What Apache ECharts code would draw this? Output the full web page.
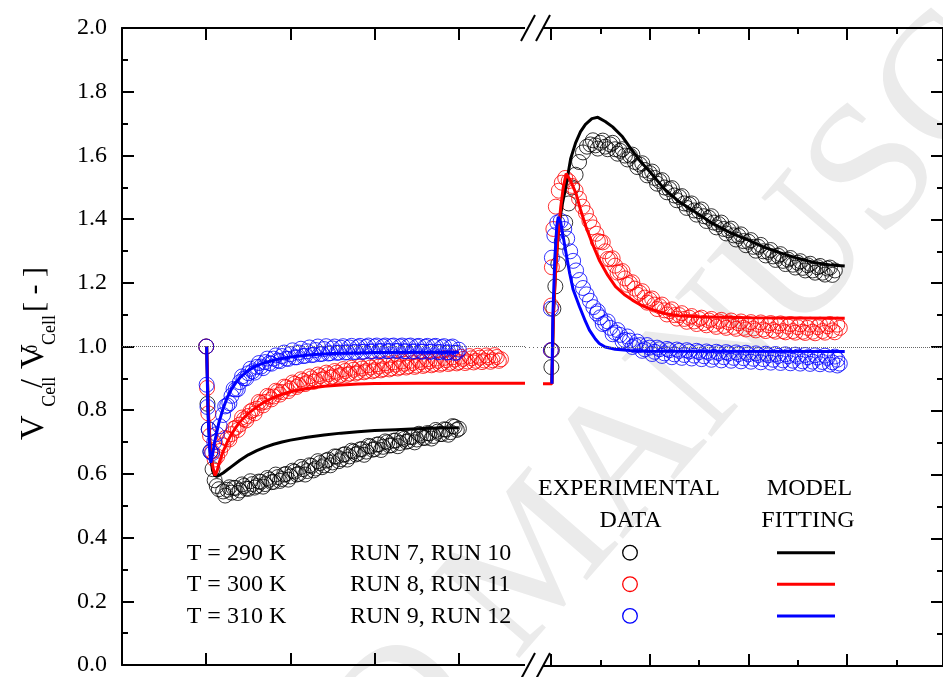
<!DOCTYPE html>
<html><head><meta charset="utf-8">
<script src="https://cdn.jsdelivr.net/npm/echarts@6/dist/echarts.min.js"></script>
<style>html,body{margin:0;padding:0;background:#fff}#c{width:943px;height:677px}</style>
</head><body><div id="c"></div>
<script>
// ---- tick positions (no labels on x) ----
const leftTicks = [0, 20, 40, 60];
const rightMajorTicks = [0, 20, 40, 60];
const rightMinorTicks = [10, 30, 50, 70];
const yTickLabelDigits = 1;

// ---- legend texts ----
const temps = ['T = 290 K', 'T = 300 K', 'T = 310 K'];
const runs = ['RUN 7, RUN 10', 'RUN 8, RUN 11', 'RUN 9, RUN 12'];
const colors = ['#000000', '#ff0000', '#0000ff'];

// ---- left panel: experimental data [t, V/V0] ----
const expL290 = [[0,1.0],[0.3,0.82],[0.6,0.74],[1,0.67],[1.5,0.615],[2,0.58],[2.5,0.562],[3,0.552],[4,0.545],[5,0.55],[6,0.541],[7,0.556],[8,0.548],[9,0.562],[10,0.553],[11,0.568],[12,0.562],[13,0.575],[14,0.568],[15,0.582],[16,0.575],[17,0.59],[18,0.584],[19,0.6],[20,0.592],[21,0.607],[22,0.6],[23,0.615],[24,0.609],[25,0.625],[26,0.617],[27,0.634],[28,0.627],[29,0.645],[30,0.636],[31,0.654],[32,0.646],[33,0.662],[34,0.655],[35,0.67],[36,0.664],[37,0.678],[38,0.67],[39,0.686],[40,0.678],[41,0.693],[42,0.685],[43,0.699],[44,0.69],[45,0.705],[46,0.697],[47,0.71],[48,0.703],[49,0.716],[50,0.708],[51,0.721],[52,0.713],[53,0.727],[54,0.719],[55,0.733],[56,0.725],[57,0.739],[58,0.731],[59,0.748],[60,0.742]];
const expL290b = [[4.5,0.532],[5.5,0.558],[6.5,0.556],[7.5,0.54],[8.5,0.567],[9.5,0.554],[10.5,0.577],[11.5,0.557],[12.5,0.576],[13.5,0.56],[14.5,0.587],[15.5,0.574],[16.5,0.598],[17.5,0.578],[18.5,0.598],[19.5,0.582],[20.5,0.61],[21.5,0.598],[22.5,0.622],[23.5,0.598],[24.5,0.627],[25.5,0.611],[26.5,0.64],[27.5,0.621],[28.5,0.642],[29.5,0.627],[30.5,0.655],[31.5,0.64],[32.5,0.66],[33.5,0.645],[34.5,0.673],[35.5,0.661],[36.5,0.677],[37.5,0.66],[38.5,0.688],[39.5,0.676],[40.5,0.692],[41.5,0.675],[42.5,0.702],[43.5,0.689],[44.5,0.704],[45.5,0.687],[46.5,0.714],[47.5,0.701],[48.5,0.716],[49.5,0.699],[50.5,0.726],[51.5,0.713],[52.5,0.728],[53.5,0.711],[54.5,0.738],[55.5,0.725],[56.5,0.74],[57.5,0.723],[58.5,0.75],[59.5,0.738]];
const expL300 = [[0,1.0],[0.2,0.87],[0.5,0.79],[0.9,0.72],[1.4,0.67],[2,0.645],[2.6,0.655],[3.3,0.672],[4,0.69],[5,0.71],[6,0.725],[7,0.745],[8,0.755],[9,0.772],[10,0.782],[11,0.8],[12,0.805],[13,0.823],[14,0.826],[15,0.842],[16,0.843],[17,0.858],[18,0.857],[19,0.872],[20,0.868],[21,0.883],[22,0.879],[23,0.892],[24,0.887],[25,0.9],[26,0.894],[27,0.907],[28,0.9],[29,0.913],[30,0.906],[31,0.918],[32,0.911],[33,0.923],[34,0.915],[35,0.927],[36,0.919],[37,0.931],[38,0.923],[39,0.934],[40,0.926],[41,0.937],[42,0.929],[43,0.94],[44,0.932],[45,0.943],[46,0.935],[47,0.946],[48,0.938],[49,0.948],[50,0.94],[51,0.951],[52,0.943],[53,0.953],[54,0.945],[55,0.955],[56,0.947],[57,0.957],[58,0.949],[59,0.959],[60,0.951],[61,0.961],[62,0.953],[63,0.963],[64,0.955],[65,0.965],[66,0.956],[67,0.966],[68,0.957],[69,0.967],[70,0.96]];
const expL300b = [[4.5,0.713],[5.5,0.708],[6.5,0.742],[7.5,0.738],[8.5,0.777],[9.5,0.768],[10.5,0.796],[11.5,0.79],[12.5,0.826],[13.5,0.815],[14.5,0.845],[15.5,0.834],[16.5,0.861],[17.5,0.849],[18.5,0.874],[19.5,0.86],[20.5,0.887],[21.5,0.873],[22.5,0.897],[23.5,0.882],[24.5,0.906],[25.5,0.889],[26.5,0.912],[27.5,0.896],[28.5,0.918],[29.5,0.902],[30.5,0.923],[31.5,0.907],[32.5,0.929],[33.5,0.911],[34.5,0.933],[35.5,0.915],[36.5,0.937],[37.5,0.919],[38.5,0.941],[39.5,0.922],[40.5,0.944],[41.5,0.925],[42.5,0.947],[43.5,0.928],[44.5,0.95],[45.5,0.931],[46.5,0.953],[47.5,0.934],[48.5,0.955],[49.5,0.936],[50.5,0.958],[51.5,0.939],[52.5,0.96],[53.5,0.941],[54.5,0.962],[55.5,0.943],[56.5,0.964],[57.5,0.945],[58.5,0.966],[59.5,0.947],[60.5,0.968],[61.5,0.948],[62.5,0.97],[63.5,0.95],[64.5,0.971],[65.5,0.951],[66.5,0.972],[67.5,0.952],[68.5,0.973],[69.5,0.955]];
const expL310 = [[0,1.0],[0.1,0.88],[0.3,0.81],[0.6,0.74],[1,0.67],[1.4,0.665],[1.9,0.7],[2.5,0.725],[3.2,0.75],[4,0.785],[5,0.815],[6,0.845],[7,0.865],[8,0.888],[9,0.9],[10,0.916],[11,0.922],[12,0.936],[13,0.937],[14,0.951],[15,0.948],[16,0.962],[17,0.956],[18,0.97],[19,0.962],[20,0.976],[21,0.966],[22,0.981],[23,0.97],[24,0.985],[25,0.973],[26,0.989],[27,0.976],[28,0.992],[29,0.978],[30,0.994],[31,0.98],[32,0.996],[33,0.981],[34,0.997],[35,0.982],[36,0.998],[37,0.983],[38,0.999],[39,0.984],[40,1.0],[41,0.985],[42,1.0],[43,0.985],[44,1.001],[45,0.986],[46,1.0],[47,0.985],[48,1.001],[49,0.984],[50,1.0],[51,0.984],[52,0.999],[53,0.983],[54,1.0],[55,0.982],[56,0.998],[57,0.981],[58,0.997],[59,0.98],[60,0.99]];
const expL310b = [[4.5,0.812],[5.5,0.822],[6.5,0.867],[7.5,0.866],[8.5,0.906],[9.5,0.9],[10.5,0.93],[11.5,0.918],[12.5,0.948],[13.5,0.932],[14.5,0.962],[15.5,0.946],[16.5,0.972],[17.5,0.954],[18.5,0.981],[19.5,0.961],[20.5,0.988],[21.5,0.966],[22.5,0.993],[23.5,0.971],[24.5,0.997],[25.5,0.974],[26.5,1.0],[27.5,0.977],[28.5,1.001],[29.5,0.979],[30.5,1.0],[31.5,0.981],[32.5,1.001],[33.5,0.982],[34.5,1.002],[35.5,0.983],[36.5,1.002],[37.5,0.984],[38.5,1.003],[39.5,0.985],[40.5,1.003],[41.5,0.986],[42.5,1.003],[43.5,0.986],[44.5,1.003],[45.5,0.986],[46.5,1.003],[47.5,0.985],[48.5,1.003],[49.5,0.985],[50.5,1.002],[51.5,0.984],[52.5,1.002],[53.5,0.984],[54.5,1.002],[55.5,0.983],[56.5,1.001],[57.5,0.982],[58.5,1.0],[59.5,0.981]];

// ---- left panel: model fitting ----
const fitL290 = [[0.1,1.0],[0.5,0.78],[1,0.66],[1.5,0.61],[2,0.595],[2.5,0.592],[3,0.595],[4,0.603],[5,0.613],[6,0.623],[8,0.643],[10,0.66],[12,0.673],[14,0.684],[16,0.693],[18,0.7],[20,0.706],[24,0.715],[28,0.722],[32,0.728],[36,0.732],[40,0.736],[45,0.739],[50,0.742],[55,0.744],[60,0.745]];
const fitL300 = [[0.1,1.0],[0.5,0.8],[1,0.68],[1.6,0.62],[2.1,0.595],[2.6,0.61],[3.2,0.64],[4,0.67],[5,0.7],[6,0.725],[7,0.745],[8,0.763],[10,0.79],[12,0.81],[14,0.827],[16,0.84],[18,0.85],[20,0.858],[24,0.868],[28,0.875],[32,0.879],[36,0.882],[40,0.884],[50,0.885],[60,0.885],[75.7,0.885]];
const fitL310 = [[0.1,1.0],[0.4,0.8],[0.8,0.68],[1.1,0.635],[1.5,0.66],[2,0.7],[3,0.76],[4,0.805],[5,0.84],[6,0.866],[7,0.886],[8,0.902],[10,0.925],[12,0.94],[14,0.95],[17,0.96],[20,0.967],[25,0.974],[30,0.978],[40,0.981],[50,0.982],[60,0.982]];

// ---- right panel: experimental data ----
const expR290 = [[0.1,0.937],[0.2,0.99],[0.5,1.12],[0.9,1.19],[1.5,1.26],[2.2,1.33],[2.9,1.39],[3.6,1.45],[4.3,1.5],[5,1.54],[5.7,1.58],[6.5,1.61],[7.3,1.628],[8,1.635],[9,1.632],[10,1.64],[11,1.628],[12,1.635],[13,1.62],[14,1.615],[15,1.6],[16,1.6],[17,1.58],[18,1.572],[19,1.555],[20,1.545],[21,1.53],[22,1.52],[23,1.5],[24,1.495],[25,1.475],[26,1.47],[27,1.45],[28,1.447],[29,1.428],[30,1.426],[31,1.41],[32,1.405],[33,1.39],[34,1.385],[35,1.37],[36,1.366],[37,1.35],[38,1.348],[39,1.332],[40,1.33],[41,1.314],[42,1.314],[43,1.3],[44,1.298],[45,1.284],[46,1.286],[47,1.27],[48,1.274],[49,1.258],[50,1.264],[51,1.248],[52,1.256],[53,1.24],[54,1.25],[55,1.233],[56,1.246],[57,1.226],[57.5,1.24]];
const expR290b = [[8.5,1.648],[9.5,1.622],[10.5,1.647],[11.5,1.62],[12.5,1.64],[13.5,1.606],[14.5,1.62],[15.5,1.588],[16.5,1.603],[17.5,1.564],[18.5,1.576],[19.5,1.538],[20.5,1.55],[21.5,1.512],[22.5,1.523],[23.5,1.485],[24.5,1.498],[25.5,1.46],[26.5,1.473],[27.5,1.436],[28.5,1.45],[29.5,1.415],[30.5,1.431],[31.5,1.395],[32.5,1.41],[33.5,1.375],[34.5,1.39],[35.5,1.356],[36.5,1.371],[37.5,1.337],[38.5,1.353],[39.5,1.319],[40.5,1.335],[41.5,1.302],[42.5,1.32],[43.5,1.287],[44.5,1.304],[45.5,1.273],[46.5,1.291],[47.5,1.26],[48.5,1.279],[49.5,1.249],[50.5,1.269],[51.5,1.24],[52.5,1.261],[53.5,1.233],[54.5,1.254],[55.5,1.227],[56.5,1.249]];
const expR300 = [[0,0.99],[0.1,1.13],[0.2,1.25],[0.5,1.37],[1,1.44],[1.6,1.49],[2.2,1.515],[2.9,1.53],[3.6,1.52],[4.3,1.505],[5,1.49],[5.7,1.465],[6.4,1.44],[7.1,1.42],[7.8,1.395],[8.5,1.375],[9.2,1.355],[10,1.33],[11,1.3],[12,1.275],[13,1.255],[14,1.235],[15,1.215],[16,1.2],[17,1.183],[18,1.17],[19,1.155],[20,1.148],[21,1.133],[22,1.128],[23,1.115],[24,1.112],[25,1.1],[26,1.1],[27,1.088],[28,1.092],[29,1.08],[30,1.088],[31,1.075],[32,1.083],[33,1.07],[34,1.08],[35,1.066],[36,1.077],[37,1.063],[38,1.074],[39,1.06],[40,1.072],[41,1.058],[42,1.07],[43,1.055],[44,1.068],[45,1.053],[46,1.066],[47,1.05],[48,1.064],[49,1.05],[50,1.062],[51,1.048],[52,1.06],[53,1.048],[54,1.062],[55,1.05],[56,1.065],[57,1.052],[58,1.07]];
const expR300b = [[9.5,1.332],[10.5,1.328],[11.5,1.276],[12.5,1.278],[13.5,1.233],[14.5,1.238],[15.5,1.195],[16.5,1.203],[17.5,1.164],[18.5,1.175],[19.5,1.139],[20.5,1.152],[21.5,1.119],[22.5,1.133],[23.5,1.102],[24.5,1.118],[25.5,1.089],[26.5,1.106],[27.5,1.079],[28.5,1.097],[29.5,1.072],[30.5,1.092],[31.5,1.068],[32.5,1.088],[33.5,1.063],[34.5,1.085],[35.5,1.06],[36.5,1.083],[37.5,1.057],[38.5,1.08],[39.5,1.055],[40.5,1.078],[41.5,1.052],[42.5,1.077],[43.5,1.05],[44.5,1.075],[45.5,1.048],[46.5,1.074],[47.5,1.046],[48.5,1.072],[49.5,1.045],[50.5,1.071],[51.5,1.044],[52.5,1.07],[53.5,1.043],[54.5,1.07],[55.5,1.045],[56.5,1.072],[57.5,1.046],[58.5,1.06]];
const expR310 = [[0,0.99],[0,1.12],[0.2,1.28],[0.7,1.35],[1.3,1.39],[2,1.395],[2.7,1.37],[3.3,1.34],[3.9,1.3],[4.5,1.27],[5.1,1.24],[5.8,1.21],[6.5,1.185],[7.2,1.165],[7.9,1.145],[8.6,1.125],[9.3,1.105],[10,1.093],[11,1.075],[12,1.06],[13,1.045],[14,1.038],[15,1.022],[16,1.02],[17,1.005],[18,1.006],[19,0.993],[20,0.998],[21,0.985],[22,0.993],[23,0.98],[24,0.99],[25,0.977],[26,0.988],[27,0.975],[28,0.986],[29,0.973],[30,0.984],[31,0.971],[32,0.982],[33,0.969],[34,0.981],[35,0.968],[36,0.98],[37,0.966],[38,0.978],[39,0.965],[40,0.977],[41,0.963],[42,0.975],[43,0.962],[44,0.974],[45,0.96],[46,0.972],[47,0.958],[48,0.971],[49,0.957],[50,0.97],[51,0.955],[52,0.968],[53,0.954],[54,0.967],[55,0.953],[56,0.966],[57,0.952],[58,0.96],[58.5,0.948]];
const expR310b = [[9.5,1.112],[10.5,1.072],[11.5,1.08],[12.5,1.04],[13.5,1.053],[14.5,1.018],[15.5,1.033],[16.5,1.0],[17.5,1.017],[18.5,0.988],[19.5,1.006],[20.5,0.978],[21.5,0.998],[22.5,0.972],[23.5,0.994],[24.5,0.968],[25.5,0.992],[26.5,0.966],[27.5,0.99],[28.5,0.964],[29.5,0.988],[30.5,0.962],[31.5,0.986],[32.5,0.96],[33.5,0.985],[34.5,0.958],[35.5,0.984],[36.5,0.957],[37.5,0.983],[38.5,0.955],[39.5,0.982],[40.5,0.954],[41.5,0.98],[42.5,0.952],[43.5,0.979],[44.5,0.951],[45.5,0.978],[46.5,0.95],[47.5,0.977],[48.5,0.949],[49.5,0.976],[50.5,0.948],[51.5,0.975],[52.5,0.947],[53.5,0.974],[54.5,0.946],[55.5,0.973],[56.5,0.945],[57.5,0.97],[58,0.942]];

// ---- right panel: model fitting ----
const fitR290 = [[0.2,0.885],[0.5,1.1],[1,1.26],[1.5,1.36],[2.2,1.44],[3,1.5],[4,1.59],[5,1.64],[6,1.675],[7,1.698],[8.3,1.716],[9.5,1.72],[11,1.707],[12.5,1.69],[14.5,1.659],[16,1.626],[18,1.584],[20,1.55],[23,1.495],[26,1.455],[30,1.415],[33,1.385],[36.5,1.357],[40,1.335],[43,1.314],[46.5,1.295],[50,1.278],[53,1.266],[56.5,1.257],[59.5,1.254]];
const fitR300 = [[-1.6,0.885],[0.2,0.885],[0.5,1.1],[1,1.25],[1.5,1.36],[2,1.44],[2.5,1.5],[3.1,1.544],[4,1.52],[5.1,1.481],[6,1.43],[7.1,1.377],[8.5,1.32],[9.8,1.272],[11.5,1.225],[13.1,1.189],[15,1.163],[16.5,1.147],[18,1.133],[19.8,1.121],[23,1.105],[26,1.098],[30,1.095],[40,1.092],[59.5,1.09]];
const fitR310 = [[0.2,0.885],[0.4,1.1],[0.8,1.28],[1.2,1.38],[1.5,1.408],[2,1.39],[2.5,1.345],[3,1.3],[3.8,1.231],[4.5,1.18],[5.8,1.126],[7,1.08],[7.8,1.053],[9,1.025],[9.8,1.011],[11,1.0],[13,0.993],[16,0.989],[20,0.987],[59.5,0.986]];

const FONT = 'Liberation Serif';
const chart = echarts.init(document.getElementById('c'), null, {renderer: 'canvas'});

const axisLineStyle = {color: '#000', width: 2};
function xAx(grid, pos, min, max, ticks, len, showLine) {
  return {
    type: 'value', gridIndex: grid, position: pos, min: min, max: max,
    axisLine: {show: showLine, onZero: false, lineStyle: axisLineStyle},
    axisTick: {show: true, inside: true, length: len, customValues: ticks, lineStyle: {color: '#000', width: 2}},
    axisLabel: {show: false}, splitLine: {show: false}
  };
}
function yAx(grid, pos, showLabel) {
  return {
    type: 'value', gridIndex: grid, position: pos, min: 0, max: 2, interval: 0.2,
    axisLine: {show: true, onZero: false, lineStyle: axisLineStyle},
    axisTick: {show: true, inside: true, length: 12, lineStyle: {color: '#000', width: 2}},
    minorTick: {show: true, splitNumber: 2, length: 6, lineStyle: {color: '#000', width: 2}},
    axisLabel: {show: showLabel, margin: 15, color: '#000', fontSize: 24, fontFamily: FONT,
      formatter: v => v.toFixed(yTickLabelDigits)},
    splitLine: {show: false}, minorSplitLine: {show: false}
  };
}

function scat(data, color, xi, yi) {
  return {type: 'scatter', data: data, xAxisIndex: xi, yAxisIndex: yi, symbol: 'circle', symbolSize: 15,
    itemStyle: {color: 'rgba(0,0,0,0)', borderColor: color, borderWidth: 1}, silent: true, z: 2};
}
function fit(data, color, xi, yi) {
  return {type: 'line', data: data, xAxisIndex: xi, yAxisIndex: yi, showSymbol: false, symbol: 'none',
    lineStyle: {color: color, width: 3}, itemStyle: {color: color}, silent: true, z: 3};
}
const dotted = {silent: true, symbol: 'none', label: {show: false},
  lineStyle: {color: '#666', width: 1, type: 'dotted'}, data: [{yAxis: 1}]};

const series = [
  scat(expL290.concat(expL290b), colors[0], 0, 0),
  scat(expL300.concat(expL300b), colors[1], 0, 0),
  scat(expL310.concat(expL310b), colors[2], 0, 0),
  fit(fitL290, colors[0], 0, 0), fit(fitL300, colors[1], 0, 0), fit(fitL310, colors[2], 0, 0),
  scat(expR290.concat(expR290b), colors[0], 2, 1),
  scat(expR300.concat(expR300b), colors[1], 2, 1),
  scat(expR310.concat(expR310b), colors[2], 2, 1),
  fit(fitR290, colors[0], 2, 1), fit(fitR300, colors[1], 2, 1), fit(fitR310, colors[2], 2, 1)
];
series[0].markLine = dotted;
series[6].markLine = dotted;

// ---- graphic: axis title, legend table, axis breaks, watermark ----
const g = [];
const R = Math.PI / 2;
function rt(text, x, y, size) {
  g.push({type: 'text', x: x, y: y, rotation: R, z: 100,
    style: {text: text, fill: '#000', fontSize: size, fontFamily: FONT, align: 'left', verticalAlign: 'middle'}});
}
rt('V', 34, 440, 34);
rt('Cell', 50.6, 406.7, 18);
rt('/', 34, 388, 32);
rt('V', 34, 369, 34);
rt('0', 32.6, 353, 16);
rt('Cell', 50.6, 345, 18);
rt('[ - ]', 34.9, 312, 30);

function ht(text, x, y, align) {
  g.push({type: 'text', x: x, y: y, z: 100,
    style: {text: text, fill: '#000', fontSize: 24, fontFamily: FONT, align: align, verticalAlign: 'middle'}});
}
ht('EXPERIMENTAL', 629, 489, 'center');
ht('DATA', 630.5, 521, 'center');
ht('MODEL', 809.5, 489, 'center');
ht('FITTING', 808, 521, 'center');
const rowY = [553.5, 585, 616.7];
for (let i = 0; i < 3; i++) {
  ht(temps[i], 186.7, rowY[i], 'left');
  ht(runs[i], 350, rowY[i], 'left');
  g.push({type: 'circle', z: 100, shape: {cx: 630, cy: rowY[i] - 0.8, r: 7.3},
    style: {fill: 'none', stroke: colors[i], lineWidth: 1.3}});
  g.push({type: 'line', z: 100, shape: {x1: 777, y1: rowY[i] - 0.8, x2: 835, y2: rowY[i] - 0.8},
    style: {stroke: colors[i], lineWidth: 3}});
}
// axis break marks
[[28], [666]].forEach(([yy]) => {
  g.push({type: 'rect', z: 99, shape: {x: 525, y: yy - 2, width: 18, height: 4}, style: {fill: '#fff'}});
  g.push({type: 'line', z: 100, shape: {x1: 521, y1: yy + 13, x2: 535, y2: yy - 13}, style: {stroke: '#000', lineWidth: 2}});
  g.push({type: 'line', z: 100, shape: {x1: 536, y1: yy + 13, x2: 550, y2: yy - 13}, style: {stroke: '#000', lineWidth: 2}});
});
// dotted reference continues across the break gap
g.push({type: 'line', z: 1, shape: {x1: 525, y1: 347.5, x2: 543, y2: 347.5},
  style: {stroke: '#666', lineWidth: 1, lineDash: [1, 3]}});
// watermark
const WR = 49 * Math.PI / 180;
g.push({type: 'text', x: 479.6, y: 630.7, rotation: WR, z: -1,
  style: {text: 'ACCEPTED ', fill: '#ebebeb', fontSize: 182, fontFamily: FONT, align: 'right', verticalAlign: 'middle'}});
g.push({type: 'text', x: 479.6, y: 630.7, rotation: WR, z: -1,
  style: {text: 'MANUSCRIPT', fill: '#ebebeb', fontSize: 182, fontFamily: FONT, align: 'left', verticalAlign: 'middle'}});

chart.setOption({
  animation: false,
  backgroundColor: '#fff',
  grid: [
    {left: 122, top: 28, width: 403, bottom: 11, containLabel: false},
    {left: 543, top: 28, width: 405, bottom: 11, containLabel: false}
  ],
  xAxis: [
    xAx(0, 'bottom', -20, 75.7, leftTicks, 12, true),
    xAx(0, 'top', -20, 75.7, leftTicks, 12, true),
    xAx(1, 'bottom', -1.6, 79.4, rightMajorTicks, 12, true),
    xAx(1, 'bottom', -1.6, 79.4, rightMinorTicks, 6, false),
    xAx(1, 'top', -1.6, 79.4, rightMajorTicks, 12, true),
    xAx(1, 'top', -1.6, 79.4, rightMinorTicks, 6, false)
  ],
  yAxis: [yAx(0, 'left', true), yAx(1, 'right', false)],
  graphic: g,
  series: series
});
</script></body></html>
